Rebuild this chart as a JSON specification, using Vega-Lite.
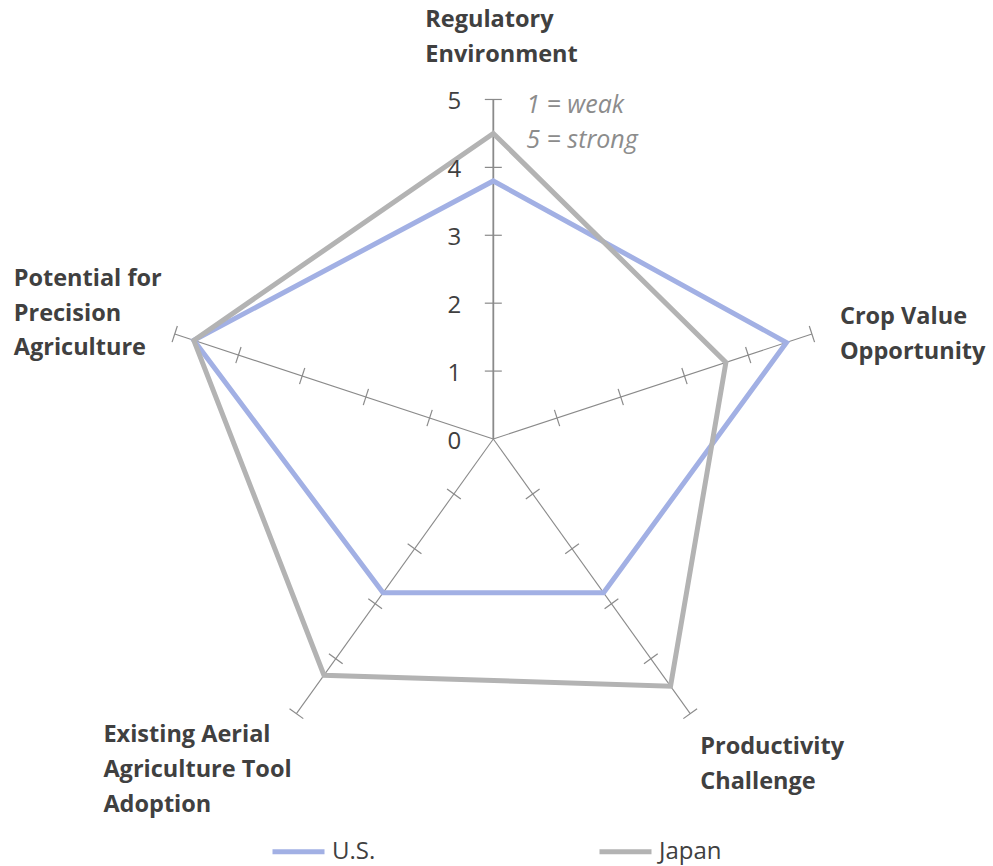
{
  "$schema": "https://vega.github.io/schema/vega-lite/v6.json",
  "width": 993,
  "height": 866,
  "autosize": "none",
  "padding": 0,
  "background": "white",
  "config": {
    "view": {"stroke": null},
    "font": "Open Sans",
    "legend": {"padding": 0}
  },
  "datasets": {
    "axes": [
      {"axis": "Regulatory Environment", "k": 0, "label": "Regulatory\nEnvironment", "grid": [1, 2, 3, 4, 5]},
      {"axis": "Crop Value Opportunity", "k": 1, "label": "Crop Value\nOpportunity", "grid": [1, 2, 3, 4, 5]},
      {"axis": "Productivity Challenge", "k": 2, "label": "Productivity\nChallenge", "grid": [1, 2, 3, 4, 5]},
      {"axis": "Existing Aerial Agriculture Tool Adoption", "k": 3, "label": "Existing  Aerial\nAgriculture  Tool\nAdoption", "grid": [1, 2, 3, 4, 5]},
      {"axis": "Potential for Precision Agriculture", "k": 4, "label": "Potential  for\nPrecision\nAgriculture", "grid": [1, 2, 3, 4, 5]}
    ],
    "scores": [
      {"country": "U.S.", "axis": "Regulatory Environment", "k": 0, "score": 3.8},
      {"country": "U.S.", "axis": "Crop Value Opportunity", "k": 1, "score": 4.6},
      {"country": "U.S.", "axis": "Productivity Challenge", "k": 2, "score": 2.8},
      {"country": "U.S.", "axis": "Existing Aerial Agriculture Tool Adoption", "k": 3, "score": 2.8},
      {"country": "U.S.", "axis": "Potential for Precision Agriculture", "k": 4, "score": 4.7},
      {"country": "Japan", "axis": "Regulatory Environment", "k": 0, "score": 4.5},
      {"country": "Japan", "axis": "Crop Value Opportunity", "k": 1, "score": 3.65},
      {"country": "Japan", "axis": "Productivity Challenge", "k": 2, "score": 4.5},
      {"country": "Japan", "axis": "Existing Aerial Agriculture Tool Adoption", "k": 3, "score": 4.3},
      {"country": "Japan", "axis": "Potential for Precision Agriculture", "k": 4, "score": 4.7}
    ],
    "levels": [{"v": 0}, {"v": 1}, {"v": 2}, {"v": 3}, {"v": 4}, {"v": 5}]
  },
  "layer": [
    {
      "description": "Spokes from the centre out to the top of the 0-5 scale",
      "data": {"name": "axes"},
      "transform": [
        {"calculate": "PI / 2 - datum.k * 2 * PI / 5", "as": "theta"},
        {"calculate": "0", "as": "ox"},
        {"calculate": "0", "as": "oy"},
        {"calculate": "5 * cos(datum.theta)", "as": "ex"},
        {"calculate": "5 * sin(datum.theta)", "as": "ey"}
      ],
      "mark": {"type": "rule", "color": "#8a8a8a"},
      "encoding": {
        "x": {"field": "ox", "type": "quantitative", "scale": {"domain": [-7.363, 7.458], "nice": false, "zero": false}, "axis": null},
        "y": {"field": "oy", "type": "quantitative", "scale": {"domain": [-6.289, 6.465], "nice": false, "zero": false}, "axis": null},
        "x2": {"field": "ex"},
        "y2": {"field": "ey"},
        "strokeWidth": {"condition": {"test": "datum.k === 0", "value": 1.8}, "value": 1.1}
      }
    },
    {
      "description": "Cross ticks at every whole score on each spoke",
      "data": {"name": "axes"},
      "transform": [
        {"flatten": ["grid"], "as": ["v"]},
        {"calculate": "PI / 2 - datum.k * 2 * PI / 5", "as": "theta"},
        {"calculate": "datum.v * cos(datum.theta)", "as": "tx"},
        {"calculate": "datum.v * sin(datum.theta)", "as": "ty"},
        {"calculate": "datum.k * 72", "as": "rot"}
      ],
      "mark": {"type": "point", "shape": "M -1 0 L 1 0", "filled": false, "color": "#8a8a8a", "strokeWidth": 1.2, "size": 289, "opacity": 1},
      "encoding": {
        "x": {"field": "tx", "type": "quantitative", "scale": {"domain": [-7.363, 7.458], "nice": false, "zero": false}, "axis": null},
        "y": {"field": "ty", "type": "quantitative", "scale": {"domain": [-6.289, 6.465], "nice": false, "zero": false}, "axis": null},
        "angle": {"field": "rot", "type": "quantitative", "scale": null}
      }
    },
    {
      "description": "One closed outline per country",
      "data": {"name": "scores"},
      "transform": [
        {"calculate": "PI / 2 - datum.k * 2 * PI / 5", "as": "theta"},
        {"calculate": "datum.score * cos(datum.theta)", "as": "px"},
        {"calculate": "datum.score * sin(datum.theta)", "as": "py"}
      ],
      "mark": {"type": "line", "interpolate": "linear-closed", "strokeWidth": 5, "strokeJoin": "miter"},
      "encoding": {
        "x": {"field": "px", "type": "quantitative", "scale": {"domain": [-7.363, 7.458], "nice": false, "zero": false}, "axis": null},
        "y": {"field": "py", "type": "quantitative", "scale": {"domain": [-6.289, 6.465], "nice": false, "zero": false}, "axis": null},
        "order": {"field": "k", "type": "quantitative"},
        "color": {
          "field": "country",
          "type": "nominal",
          "sort": ["U.S.", "Japan"],
          "scale": {"domain": ["U.S.", "Japan"], "range": ["#a2b0e4", "#b3b3b3"]},
          "legend": {
            "title": null,
            "orient": "none",
            "legendX": 270,
            "legendY": 823,
            "direction": "horizontal",
            "symbolType": "stroke",
            "symbolSize": 2704,
            "symbolStrokeWidth": 5,
            "labelFont": "Open Sans",
            "labelFontSize": 24,
            "labelColor": "#404040",
            "labelOffset": 5,
            "columnPadding": 213,
            "labelLimit": 300
          }
        }
      }
    },
    {
      "description": "Scale numbers beside the vertical spoke",
      "data": {"name": "levels"},
      "transform": [{"calculate": "0", "as": "ox"}],
      "mark": {"type": "text", "align": "right", "baseline": "middle", "dx": -32, "dy": 3, "fontSize": 24, "color": "#404040"},
      "encoding": {
        "x": {"field": "ox", "type": "quantitative", "scale": {"domain": [-7.363, 7.458], "nice": false, "zero": false}, "axis": null},
        "y": {"field": "v", "type": "quantitative", "scale": {"domain": [-6.289, 6.465], "nice": false, "zero": false}, "axis": null},
        "text": {"field": "v", "type": "quantitative"}
      }
    },
    {
      "description": "Scale key beside the top of the vertical spoke",
      "data": {"values": [{"v": 5, "note": "1 = weak\n5 = strong"}]},
      "transform": [{"calculate": "0", "as": "ox"}],
      "mark": {"type": "text", "align": "left", "baseline": "middle", "lineBreak": "\n", "lineHeight": 35, "dx": 33, "dy": 6, "fontSize": 25, "fontStyle": "italic", "color": "#8c8c8c"},
      "encoding": {
        "x": {"field": "ox", "type": "quantitative", "scale": {"domain": [-7.363, 7.458], "nice": false, "zero": false}, "axis": null},
        "y": {"field": "v", "type": "quantitative", "scale": {"domain": [-6.289, 6.465], "nice": false, "zero": false}, "axis": null},
        "text": {"field": "note", "type": "nominal"}
      }
    },
    {
      "data": {"name": "axes"},
      "transform": [
        {"filter": "datum.k === 0"},
        {"calculate": "5 * cos(PI / 2 - datum.k * 2 * PI / 5)", "as": "ex"},
        {"calculate": "5 * sin(PI / 2 - datum.k * 2 * PI / 5)", "as": "ey"}
      ],
      "mark": {"type": "text", "align": "left", "baseline": "middle", "lineBreak": "\n", "lineHeight": 35, "dx": -68, "dy": -79, "fontSize": 23.5, "fontWeight": "bold", "color": "#404040"},
      "encoding": {
        "x": {"field": "ex", "type": "quantitative", "scale": {"domain": [-7.363, 7.458], "nice": false, "zero": false}, "axis": null},
        "y": {"field": "ey", "type": "quantitative", "scale": {"domain": [-6.289, 6.465], "nice": false, "zero": false}, "axis": null},
        "text": {"field": "label", "type": "nominal"}
      }
    },
    {
      "data": {"name": "axes"},
      "transform": [
        {"filter": "datum.k === 1"},
        {"calculate": "5 * cos(PI / 2 - datum.k * 2 * PI / 5)", "as": "ex"},
        {"calculate": "5 * sin(PI / 2 - datum.k * 2 * PI / 5)", "as": "ey"}
      ],
      "mark": {"type": "text", "align": "left", "baseline": "middle", "lineBreak": "\n", "lineHeight": 35, "dx": 28, "dy": -17, "fontSize": 23.5, "fontWeight": "bold", "color": "#404040"},
      "encoding": {
        "x": {"field": "ex", "type": "quantitative", "scale": {"domain": [-7.363, 7.458], "nice": false, "zero": false}, "axis": null},
        "y": {"field": "ey", "type": "quantitative", "scale": {"domain": [-6.289, 6.465], "nice": false, "zero": false}, "axis": null},
        "text": {"field": "label", "type": "nominal"}
      }
    },
    {
      "data": {"name": "axes"},
      "transform": [
        {"filter": "datum.k === 2"},
        {"calculate": "5 * cos(PI / 2 - datum.k * 2 * PI / 5)", "as": "ex"},
        {"calculate": "5 * sin(PI / 2 - datum.k * 2 * PI / 5)", "as": "ey"}
      ],
      "mark": {"type": "text", "align": "left", "baseline": "middle", "lineBreak": "\n", "lineHeight": 35, "dx": 10, "dy": 33, "fontSize": 23.5, "fontWeight": "bold", "color": "#404040"},
      "encoding": {
        "x": {"field": "ex", "type": "quantitative", "scale": {"domain": [-7.363, 7.458], "nice": false, "zero": false}, "axis": null},
        "y": {"field": "ey", "type": "quantitative", "scale": {"domain": [-6.289, 6.465], "nice": false, "zero": false}, "axis": null},
        "text": {"field": "label", "type": "nominal"}
      }
    },
    {
      "data": {"name": "axes"},
      "transform": [
        {"filter": "datum.k === 3"},
        {"calculate": "5 * cos(PI / 2 - datum.k * 2 * PI / 5)", "as": "ex"},
        {"calculate": "5 * sin(PI / 2 - datum.k * 2 * PI / 5)", "as": "ey"}
      ],
      "mark": {"type": "text", "align": "left", "baseline": "middle", "lineBreak": "\n", "lineHeight": 35, "dx": -193, "dy": 21, "fontSize": 23.5, "fontWeight": "bold", "color": "#404040"},
      "encoding": {
        "x": {"field": "ex", "type": "quantitative", "scale": {"domain": [-7.363, 7.458], "nice": false, "zero": false}, "axis": null},
        "y": {"field": "ey", "type": "quantitative", "scale": {"domain": [-6.289, 6.465], "nice": false, "zero": false}, "axis": null},
        "text": {"field": "label", "type": "nominal"}
      }
    },
    {
      "data": {"name": "axes"},
      "transform": [
        {"filter": "datum.k === 4"},
        {"calculate": "5 * cos(PI / 2 - datum.k * 2 * PI / 5)", "as": "ex"},
        {"calculate": "5 * sin(PI / 2 - datum.k * 2 * PI / 5)", "as": "ey"}
      ],
      "mark": {"type": "text", "align": "left", "baseline": "middle", "lineBreak": "\n", "lineHeight": 34.5, "dx": -161, "dy": -55, "fontSize": 23.5, "fontWeight": "bold", "color": "#404040"},
      "encoding": {
        "x": {"field": "ex", "type": "quantitative", "scale": {"domain": [-7.363, 7.458], "nice": false, "zero": false}, "axis": null},
        "y": {"field": "ey", "type": "quantitative", "scale": {"domain": [-6.289, 6.465], "nice": false, "zero": false}, "axis": null},
        "text": {"field": "label", "type": "nominal"}
      }
    }
  ]
}
